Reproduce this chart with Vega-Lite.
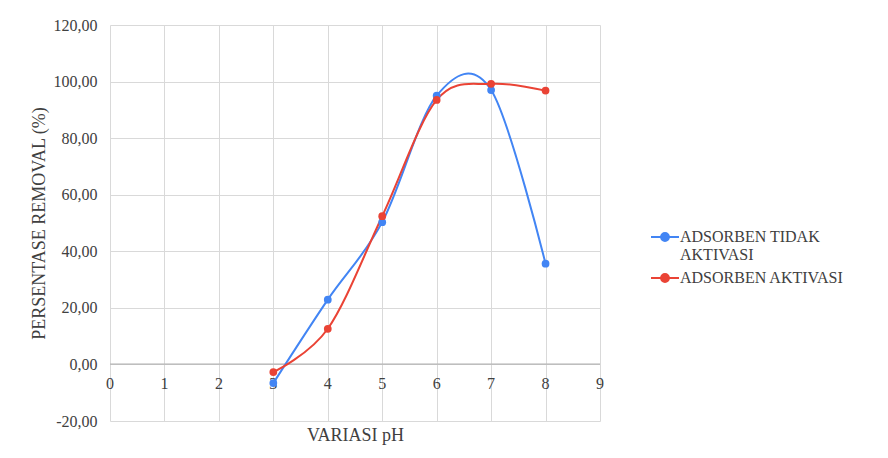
{
  "$schema": "https://vega.github.io/schema/vega-lite/v6.json",
  "width": 490,
  "height": 396,
  "autosize": {"type": "none"},
  "padding": {"left": 110, "top": 25, "right": 288, "bottom": 37},
  "background": "white",
  "config": {
    "font": "Liberation Serif",
    "view": {"stroke": null},
    "axis": {"gridColor": "#d9d9d9", "gridWidth": 1, "labelFont": "Liberation Serif", "titleFont": "Liberation Serif"},
    "legend": {"labelFont": "Liberation Serif"},
    "text": {"font": "Liberation Serif"}
  },
  "datasets": {
    "series": [
      {"series": "ADSORBEN TIDAK AKTIVASI", "ph": 3, "value": -6.6},
      {"series": "ADSORBEN TIDAK AKTIVASI", "ph": 4, "value": 22.9},
      {"series": "ADSORBEN TIDAK AKTIVASI", "ph": 5, "value": 50.3},
      {"series": "ADSORBEN TIDAK AKTIVASI", "ph": 6, "value": 95.0},
      {"series": "ADSORBEN TIDAK AKTIVASI", "ph": 7, "value": 97.0},
      {"series": "ADSORBEN TIDAK AKTIVASI", "ph": 8, "value": 35.6},
      {"series": "ADSORBEN AKTIVASI", "ph": 3, "value": -2.7},
      {"series": "ADSORBEN AKTIVASI", "ph": 4, "value": 12.6},
      {"series": "ADSORBEN AKTIVASI", "ph": 5, "value": 52.4},
      {"series": "ADSORBEN AKTIVASI", "ph": 6, "value": 93.5},
      {"series": "ADSORBEN AKTIVASI", "ph": 7, "value": 99.2},
      {"series": "ADSORBEN AKTIVASI", "ph": 8, "value": 96.8}
    ],
    "ticks": [
      {"ph": 0, "value": 0}, {"ph": 1, "value": 0}, {"ph": 2, "value": 0},
      {"ph": 3, "value": 0}, {"ph": 4, "value": 0}, {"ph": 5, "value": 0},
      {"ph": 6, "value": 0}, {"ph": 7, "value": 0}, {"ph": 8, "value": 0},
      {"ph": 9, "value": 0}
    ]
  },
  "layer": [
    {
      "data": {"name": "ticks"},
      "mark": {"type": "text", "baseline": "top", "dy": 12, "fontSize": 16, "color": "#404040"},
      "encoding": {
        "x": {"field": "ph", "type": "quantitative",
          "scale": {"domain": [0, 9], "nice": false},
          "axis": {"title": "VARIASI pH", "titleFontSize": 18, "titleFontWeight": "normal", "titleColor": "#404040", "titlePadding": 5, "labels": false, "ticks": false, "domain": false, "values": [0,1,2,3,4,5,6,7,8,9], "grid": true}},
        "y": {"field": "value", "type": "quantitative",
          "scale": {"domain": [-20, 120], "nice": false},
          "axis": {"title": "PERSENTASE REMOVAL (%)", "titleFontSize": 18, "titleFontWeight": "normal", "titleColor": "#404040", "titlePadding": 5,
            "values": [-20, 0, 20, 40, 60, 80, 100, 120], "labelFontSize": 16, "labelColor": "#404040", "labelPadding": 13,
            "ticks": false, "domain": false,
            "labelExpr": "replace(replace(format(datum.value, '.2f'), '.', ','), '\u2212', '-')"}},
        "text": {"field": "ph", "type": "quantitative"}
      }
    },
    {
      "data": {"name": "ticks"},
      "mark": {"type": "rule", "color": "#bfbfbf", "strokeWidth": 1},
      "encoding": {
        "y": {"datum": 0, "type": "quantitative"}
      }
    },
    {
      "data": {"name": "series"},
      "mark": {"type": "line", "interpolate": "cardinal", "strokeWidth": 2, "point": {"filled": true, "size": 60}},
      "encoding": {
        "x": {"field": "ph", "type": "quantitative"},
        "y": {"field": "value", "type": "quantitative"},
        "color": {"field": "series", "type": "nominal",
          "scale": {"domain": ["ADSORBEN TIDAK AKTIVASI", "ADSORBEN AKTIVASI"], "range": ["#4285F4", "#EA4335"]},
          "legend": {"title": null, "orient": "none", "legendX": 540, "legendY": 197,
            "labelFontSize": 16, "labelColor": "#404040", "labelLimit": 300,
            "symbolType": "M -1 0 L -0.28 0 M 0.28 0 L 1 0 M 0.28 0 A 0.28 0.28 0 1 1 -0.28 0 A 0.28 0.28 0 1 1 0.28 0 Z",
            "symbolSize": 784, "symbolStrokeWidth": 2, "labelOffset": 0,
            "rowPadding": -12,
            "labelExpr": "datum.label == 'ADSORBEN TIDAK AKTIVASI' ? ['ADSORBEN TIDAK', 'AKTIVASI'] : datum.label"}}
      }
    }
  ]
}
